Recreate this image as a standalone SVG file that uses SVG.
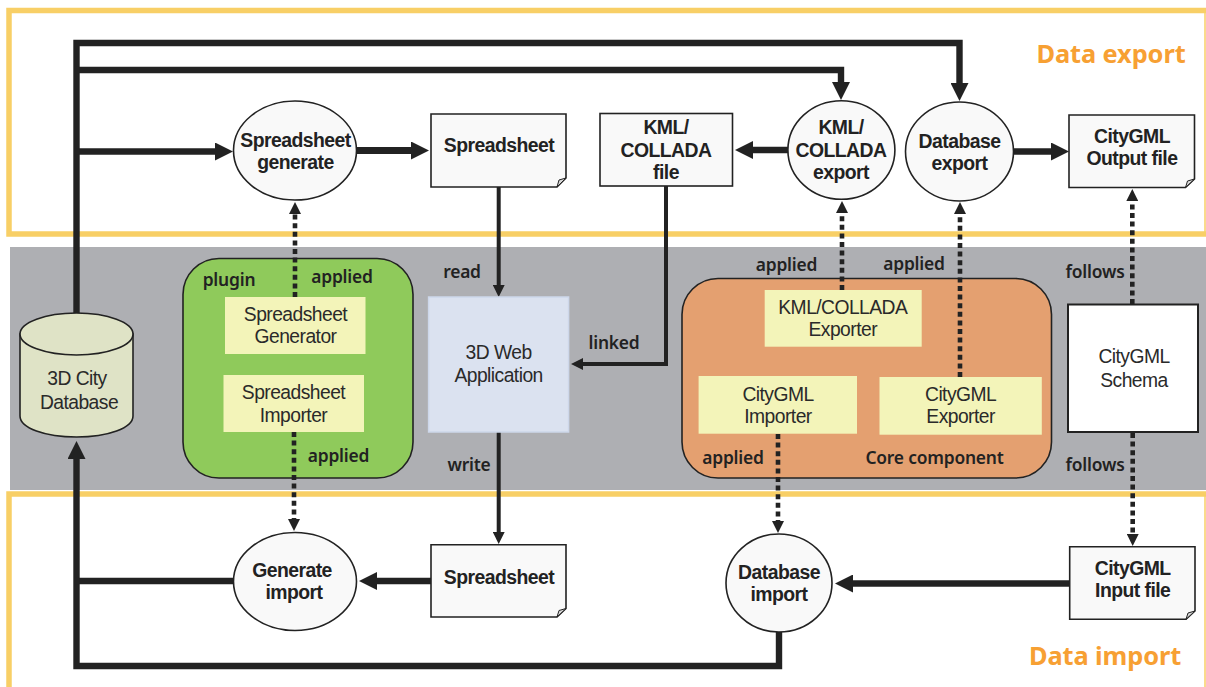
<svg xmlns="http://www.w3.org/2000/svg" width="1206" height="687" viewBox="0 0 1206 687">
<style>
text{font-family:"Liberation Sans",Arial,sans-serif;text-anchor:middle;fill:#222}
.b{font-weight:700;font-size:19.4px;letter-spacing:-.55px}
.r{font-size:19.3px;letter-spacing:-.55px;fill:#2a2a2a}
.l{font-family:"Noto Sans","Open Sans",sans-serif;font-weight:600;font-size:17.4px;letter-spacing:-.2px;fill:#222}
.t{font-family:"Noto Sans","Open Sans",sans-serif;font-weight:700;font-size:25.4px;letter-spacing:-.1px;fill:#f7a033}
.frame{fill:#fff;stroke:#f8cf66}
.n{fill:#f9f9f9;stroke:#222;stroke-width:1.6}
.tool{fill:#f3f4b9}
.fold{fill:#d8d8d8;stroke:#222;stroke-width:1}
.c{fill:none;stroke:#222;stroke-linejoin:miter}
.w6{stroke-width:6.400}
.w4{stroke-width:4}
.d{stroke-width:4.6;stroke-dasharray:5 3.6}
</style>
<defs>
<marker id="big" viewBox="0 0 18 18" markerUnits="userSpaceOnUse" markerWidth="18" markerHeight="18" refX="1" refY="9" orient="auto"><path d="M0,0L18,9L0,18Z" fill="#222"/></marker>
<marker id="mid" viewBox="0 0 12 12" markerUnits="userSpaceOnUse" markerWidth="12" markerHeight="12" refX="1" refY="6" orient="auto"><path d="M0,0L12,6L0,12Z" fill="#222"/></marker>
</defs>
<rect width="1206" height="687" fill="#fff"/>
<g id="frames">
<path class="frame" stroke-width="5.5" d="M1210,10.500H9V234H1210"/>
<path d="M1205,10V234" stroke="#f8cf66" stroke-width="1.500" fill="none"/>
<rect x="10" y="247" width="1196" height="243" fill="#aeafb3"/>
<path class="frame" stroke-width="5.5" d="M9,700V494H1210"/>
<path d="M1205,494V687" stroke="#f8cf66" stroke-width="1.500" fill="none"/>
<text class="t" x="1111" y="63">Data export</text>
<text class="t" x="1105" y="665">Data import</text>
</g>
<g id="plugin">
<rect x="183" y="258.500" width="230" height="219.500" rx="36" fill="#8fca5b" stroke="#222" stroke-width="1.600"/>
<text class="l" x="229" y="286">plugin</text>
</g>
<g id="core">
<rect x="682" y="278.500" width="369.500" height="199.500" rx="36" fill="#e4a070" stroke="#222" stroke-width="1.600"/>
<text class="l" x="934.500" y="464">Core component</text>
</g>
<g id="connectors">
<path class="c w6" marker-end="url(#big)" d="M76.500,316V43H959.500V84"/>
<path class="c w6" marker-end="url(#big)" d="M76.500,70H841V83"/>
<path class="c w6" marker-end="url(#big)" d="M76.500,151.500H216"/>
<path class="c w6" style="stroke-width:7" marker-end="url(#big)" d="M356,150.500H412"/>
<path class="c w6" marker-end="url(#big)" d="M788,150H752"/>
<path class="c w6" marker-end="url(#big)" d="M1013,151.500H1052"/>
<path class="c w4" marker-end="url(#mid)" d="M498.700,187V286"/>
<path class="c w4" marker-end="url(#mid)" d="M498.700,432V533"/>
<path class="c w4" marker-end="url(#mid)" d="M666,186V364H582"/>
<path class="c w6" marker-end="url(#big)" d="M779,632V666H76.500V458"/>
<path class="c w6" d="M76.500,581H234"/>
<path class="c w6" marker-end="url(#big)" d="M432,581H376"/>
<path class="c w6" marker-end="url(#big)" d="M1070,583.500H852"/>
<path class="c d" marker-end="url(#mid)" d="M295,297V213"/>
<path class="c d" marker-end="url(#mid)" d="M294,432V520"/>
<path class="c d" marker-end="url(#mid)" d="M842,290V212"/>
<path class="c d" marker-end="url(#mid)" d="M960,377V213"/>
<path class="c d" marker-end="url(#mid)" d="M1132.300,304V200"/>
<path class="c d" marker-end="url(#mid)" d="M778,434V522"/>
<path class="c d" marker-end="url(#mid)" d="M1132.700,433V535"/>
<text class="l" x="342" y="283">applied</text>
<text class="l" x="338.500" y="462">applied</text>
<text class="l" x="462" y="278">read</text>
<text class="l" x="469" y="471">write</text>
<text class="l" x="614" y="349">linked</text>
<text class="l" x="786.500" y="270.500">applied</text>
<text class="l" x="914" y="270">applied</text>
<text class="l" x="733" y="464">applied</text>
<text class="l" x="1095" y="278">follows</text>
<text class="l" x="1095" y="471">follows</text>
</g>
<g id="db">
<path d="M20,334V416C20,428 45,437 76.500,437C108,437 133,428 133,416V334Z" fill="#dfe3c6" stroke="#222" stroke-width="1.600"/>
<ellipse cx="76.500" cy="334" rx="56.500" ry="21" fill="#dfe3c6" stroke="#222" stroke-width="1.600"/>
<text class="r" x="77" y="385">3D City</text>
<text class="r" x="79" y="409">Database</text>
</g>
<g id="spreadsheet-generate"><ellipse class="n" cx="295" cy="150.500" rx="61.500" ry="49.500"/><text class="b" x="295.500" y="147">Spreadsheet</text><text class="b" x="295.500" y="169">generate</text></g>
<g id="spreadsheet-out"><path class="n" d="M431,114H566V178L557,187H431Z"/><path class="fold" d="M566,178L559,180L557,187Z"/><text class="b" x="499" y="152">Spreadsheet</text></g>
<g id="kml-file"><rect class="n" x="600" y="113.500" width="132.500" height="72.500"/><text class="b" x="666" y="134">KML/</text><text class="b" x="666" y="157">COLLADA</text><text class="b" x="666" y="179">file</text></g>
<g id="kml-export"><ellipse class="n" cx="841.400" cy="150" rx="53.500" ry="49.300"/><text class="b" x="841" y="134">KML/</text><text class="b" x="841" y="157">COLLADA</text><text class="b" x="841" y="179">export</text></g>
<g id="database-export"><ellipse class="n" cx="959.500" cy="151.500" rx="54" ry="49.500"/><text class="b" x="959.500" y="147.500">Database</text><text class="b" x="959.500" y="170">export</text></g>
<g id="citygml-output"><path class="n" d="M1069,115H1194.500V179L1185.500,187.500H1069Z"/><path class="fold" d="M1194.500,179L1187.500,181L1185.500,187.500Z"/><text class="b" x="1132" y="142.700">CityGML</text><text class="b" x="1132" y="165">Output file</text></g>
<g id="spreadsheet-generator"><rect class="tool" x="225" y="297" width="140.500" height="57"/><text class="r" x="295.500" y="321">Spreadsheet</text><text class="r" x="295.500" y="343">Generator</text></g>
<g id="spreadsheet-importer"><rect class="tool" x="223.500" y="375" width="140.500" height="57"/><text class="r" x="293.500" y="399">Spreadsheet</text><text class="r" x="293.500" y="421.500">Importer</text></g>
<g id="web-app"><rect x="428.600" y="297" width="140" height="135" fill="#dbe2f0" stroke="#cdd7ea" stroke-width="1.500"/><text class="r" x="498.600" y="359">3D Web</text><text class="r" x="498.600" y="382">Application</text></g>
<g id="kml-exporter"><rect class="tool" x="764.700" y="290" width="157" height="56.700"/><text class="r" x="842.800" y="314">KML/COLLADA</text><text class="r" x="842.800" y="336">Exporter</text></g>
<g id="citygml-importer"><rect class="tool" x="698.600" y="376" width="158.400" height="57.700"/><text class="r" x="778" y="400.700">CityGML</text><text class="r" x="778" y="422.700">Importer</text></g>
<g id="citygml-exporter"><rect class="tool" x="879.500" y="377" width="162.300" height="57.700"/><text class="r" x="960.600" y="401">CityGML</text><text class="r" x="960.600" y="423">Exporter</text></g>
<g id="citygml-schema"><rect x="1068" y="304.500" width="130" height="127.500" fill="#fff" stroke="#222" stroke-width="2"/><text class="r" x="1134" y="363">CityGML</text><text class="r" x="1134" y="386.700">Schema</text></g>
<g id="generate-import"><ellipse class="n" cx="295" cy="581.500" rx="61.500" ry="49"/><text class="b" x="292" y="576.700">Generate</text><text class="b" x="294" y="599">import</text></g>
<g id="spreadsheet-in"><path class="n" d="M431,544.700H566V608.500L557,617H431Z"/><path class="fold" d="M566,608.500L559,610.500L557,617Z"/><text class="b" x="499" y="583.700">Spreadsheet</text></g>
<g id="database-import"><ellipse class="n" cx="779" cy="583" rx="53" ry="49"/><text class="b" x="779" y="578.700">Database</text><text class="b" x="779" y="601">import</text></g>
<g id="citygml-input"><path class="n" d="M1069.700,546.700H1195V611L1186,619.300H1069.700Z"/><path class="fold" d="M1195,611L1188,613L1186,619.300Z"/><text class="b" x="1132.700" y="574.700">CityGML</text><text class="b" x="1132.700" y="596.700">Input file</text></g>
</svg>
